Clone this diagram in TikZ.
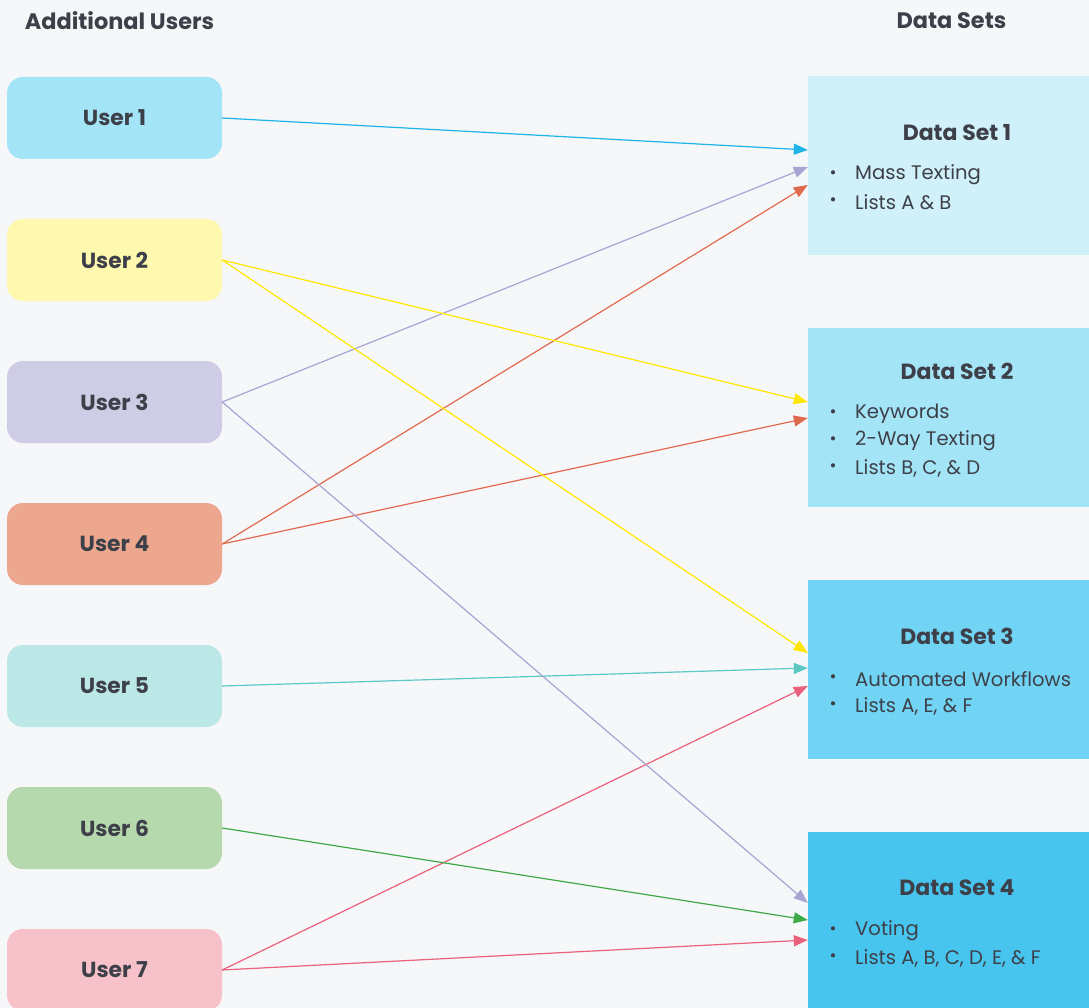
\documentclass[tikz,border=0pt]{standalone}
\usepackage{fontspec}
\setmainfont{Poppins}
\usetikzlibrary{arrows.meta,calc}
\definecolor{bg}{HTML}{F6F7F9}
\definecolor{txt}{HTML}{3E4049}
\definecolor{cu1}{HTML}{A3E4F7}
\definecolor{cu2}{HTML}{FFF9B0}
\definecolor{cu3}{HTML}{CFCDE6}
\definecolor{cu4}{HTML}{EDA78F}
\definecolor{cu5}{HTML}{BBE8E7}
\definecolor{cu6}{HTML}{B6D8AD}
\definecolor{cu7}{HTML}{F6C1C8}
\definecolor{cd1}{HTML}{D1F1FA}
\definecolor{cd2}{HTML}{A3E4F7}
\definecolor{cd3}{HTML}{72D4F4}
\definecolor{cd4}{HTML}{47C5EE}
\definecolor{lblue}{HTML}{1EB4E8}
\definecolor{llav}{HTML}{A9A4D4}
\definecolor{lorange}{HTML}{E06A4E}
\definecolor{lyellow}{HTML}{FFE800}
\definecolor{lteal}{HTML}{5BC8C4}
\definecolor{lpink}{HTML}{E9617A}
\definecolor{lgreen}{HTML}{3EAA48}
\tikzset{
  userbox/.style={rectangle, rounded corners=16pt, minimum width=215pt, minimum height=82pt, inner sep=0pt, text=txt, font=\bfseries\fontsize{21.8}{25}\selectfont},
  dsbox/.style={rectangle, minimum width=281pt, minimum height=179pt, inner sep=0pt},
  dstitle/.style={text=txt, font=\bfseries\fontsize{22}{25}\selectfont, inner sep=0pt},
  header/.style={text=txt, font=\bfseries\fontsize{22.4}{25}\selectfont, inner sep=0pt},
  bul/.style={text=txt, font=\fontsize{19.6}{23}\selectfont, anchor=west, inner sep=0pt},
  dot/.style={text=txt, font=\fontsize{17}{21}\selectfont, inner sep=0pt},
  conn/.style={line width=1.2pt, -{Triangle[length=14pt,width=11pt]}},
}
\begin{document}
\begin{tikzpicture}[x=1pt,y=-1pt]
\fill[bg] (0,0) rectangle (1089,1008);
\useasboundingbox (0,0) rectangle (1089,1008);

\node[header] (h1) at (119.5,21) {Additional Users};
\node[header] (h2) at (951.5,21) {Data Sets};

\node[userbox, fill=cu1] (u1) at (114.5,118) {User 1};
\node[userbox, fill=cu2] (u2) at (114.5,260) {User 2};
\node[userbox, fill=cu3] (u3) at (114.5,402) {User 3};
\node[userbox, fill=cu4] (u4) at (114.5,544) {User 4};
\node[userbox, fill=cu5] (u5) at (114.5,686) {User 5};
\node[userbox, fill=cu6] (u6) at (114.5,828) {User 6};
\node[userbox, fill=cu7] (u7) at (114.5,970) {User 7};

\node[dsbox, fill=cd1] (d1) at (948.5,165.5) {};
\node[dsbox, fill=cd2] (d2) at (948.5,417.5) {};
\node[dsbox, fill=cd3] (d3) at (948.5,669.5) {};
\node[dsbox, fill=cd4] (d4) at (948.5,921.5) {};

\node[dstitle] (t1) at (957,133) {Data Set 1};
\node[dot] (b11) at (833,175) {•};
\node[bul] (x11) at (855,175) {Mass Texting};
\node[dot] (b12) at (833,202) {•};
\node[bul] (x12) at (855,202) {Lists A \& B};

\node[dstitle] (t2) at (957,371) {Data Set 2};
\node[dot] (b21) at (833,414) {•};
\node[bul] (x21) at (855,414) {Keywords};
\node[dot] (b22) at (833,441) {•};
\node[bul] (x22) at (855,441) {2-Way Texting};
\node[dot] (b23) at (833,468) {•};
\node[bul] (x23) at (855,468) {Lists B, C, \& D};

\node[dstitle] (t3) at (957,636) {Data Set 3};
\node[dot] (b31) at (833,679) {•};
\node[bul] (x31) at (855,679) {Automated Workflows};
\node[dot] (b32) at (833,706) {•};
\node[bul] (x32) at (855,706) {Lists A, E, \& F};

\node[dstitle] (t4) at (957,888) {Data Set 4};
\node[dot] (b41) at (833,931) {•};
\node[bul] (x41) at (855,931) {Voting};
\node[dot] (b42) at (833,958) {•};
\node[bul] (x42) at (855,958) {Lists A, B, C, D, E, \& F};

\draw[conn, lblue] (u1.east) -- ([yshift=15.5pt]d1.west);
\draw[conn, llav] (u3.east) -- ([yshift=-1.5pt]d1.west);
\draw[conn, lorange] (u4.east) -- ([yshift=-19.5pt]d1.west);
\draw[conn, lyellow] (u2.east) -- ([yshift=15.5pt]d2.west);
\draw[conn, lorange] (u4.east) -- ([yshift=-0.5pt]d2.west);
\draw[conn, lyellow] (u2.east) -- ([yshift=16.5pt]d3.west);
\draw[conn, lteal] (u5.east) -- ([yshift=1.5pt]d3.west);
\draw[conn, lpink] (u7.east) -- ([yshift=-16.5pt]d3.west);
\draw[conn, llav] (u3.east) -- ([yshift=18.5pt]d4.west);
\draw[conn, lgreen] (u6.east) -- ([yshift=1.5pt]d4.west);
\draw[conn, lpink] (u7.east) -- ([yshift=-18.5pt]d4.west);
\end{tikzpicture}
\end{document}
